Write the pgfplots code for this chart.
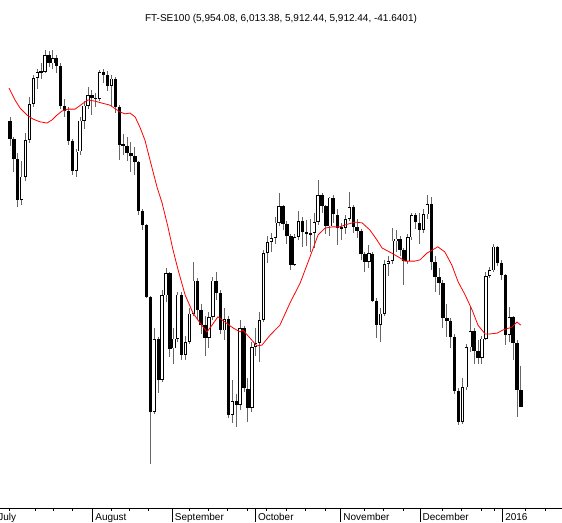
\documentclass[border=0pt]{standalone}
\usepackage{fontspec}
\setmainfont{Liberation Sans}
\usepackage{pgfplots}
\usepackage{pgfplotstable}
\pgfplotsset{compat=1.18}

% daily FT-SE100 candles, index 0 = 3 Jul 2015, 131 = 8 Jan 2016
\pgfplotstableread{
i o h l c
0 6630.47 6640 6567 6585.78
1 6585.78 6590 6502 6535.68
2 6535.68 6550 6415 6432.21
3 6432.21 6530 6420 6490.70
4 6490.70 6600 6480 6581.63
5 6581.63 6690 6575 6673.38
6 6673.38 6746 6665 6737.95
7 6737.95 6762 6710 6753.75
8 6753.75 6775 6735 6753.73
9 6753.73 6808 6750 6796.45
10 6796.45 6805 6765 6775.08
11 6775.08 6808 6762 6788.69
12 6788.69 6795 6750 6769.07
13 6769.07 6775 6660 6667.34
14 6667.34 6685 6640 6655.01
15 6655.01 6665 6570 6579.81
16 6579.81 6585 6494 6505.13
17 6505.13 6560 6490 6553.58
18 6553.58 6640 6545 6631.04
19 6631.04 6680 6610 6668.87
20 6668.87 6715 6660 6696.28
21 6696.28 6708 6645 6688.62
22 6688.62 6700 6665 6686.57
23 6686.57 6758 6680 6752.41
24 6752.41 6762 6725 6746.24
25 6746.24 6755 6705 6718.49
26 6718.49 6745 6668 6736.49
27 6736.49 6740 6650 6664.54
28 6664.54 6670 6532 6571.19
29 6571.19 6598 6545 6568.33
30 6568.33 6590 6530 6550.74
31 6550.74 6578 6502 6542.23
32 6542.23 6565 6495 6526.29
33 6526.29 6530 6395 6403.45
34 6403.45 6410 6356 6367.99
35 6367.99 6372 6185 6187.65
36 6187.65 6190 5768.22 5898.87
37 5898.87 6110 5895 6081.34
38 6081.34 6088 5947 5979.18
39 5979.18 6205 5975 6192.03
40 6192.03 6260 6175 6247.94
41 6247.94 6250 6037 6058.54
42 6058.54 6110 6020 6083.31
43 6083.31 6200 6075 6193.85
44 6193.85 6200 6030 6042.92
45 6042.92 6090 6030 6074.52
46 6074.52 6160 6070 6146.10
47 6146.10 6276 6140 6229.01
48 6229.01 6235 6130 6155.81
49 6155.81 6170 6095 6117.76
50 6117.76 6140 6040 6084.59
51 6084.59 6150 6060 6137.60
52 6137.60 6238 6130 6229.21
53 6229.21 6250 6180 6197.26
54 6197.26 6205 6095 6104.11
55 6104.11 6160 6080 6133.05
56 6133.05 6140 5885 5892.49
57 5892.49 5980 5870 5925.52
58 5925.52 5945 5860 5916.16
59 5916.16 6130 5905 6109.01
60 6109.01 6115 5950 5958.03
61 5958.03 5985 5874 5909.24
62 5909.24 6075 5900 6061.61
63 6061.61 6110 6040 6072.47
64 6072.47 6150 6025 6129.98
65 6129.98 6305 6125 6298.92
66 6298.92 6340 6273 6326.16
67 6326.16 6350 6300 6336.35
68 6336.35 6389 6320 6374.82
69 6374.82 6450 6365 6416.16
70 6416.16 6420 6355 6371.18
71 6371.18 6380 6320 6342.28
72 6342.28 6345 6255 6269.61
73 6269.61 6345 6265 6338.67
74 6338.67 6405 6330 6378.04
75 6378.04 6390 6314 6352.33
76 6352.33 6381 6315 6345.07
77 6345.07 6385 6300 6348.46
78 6348.46 6400 6310 6376.28
79 6376.28 6482 6370 6444.08
80 6444.08 6450 6400 6417.02
81 6417.02 6420 6345 6365.27
82 6365.27 6440 6340 6437.80
83 6437.80 6445 6375 6395.19
84 6395.19 6410 6319 6361.09
85 6361.09 6375 6330 6361.80
86 6361.80 6395 6345 6383.64
87 6383.64 6452 6380 6412.88
88 6412.88 6420 6350 6364.90
89 6364.90 6385 6335 6353.83
90 6353.83 6360 6280 6295.16
91 6295.16 6300 6250 6275.28
92 6275.28 6318 6260 6297.20
93 6297.20 6300 6175 6178.68
94 6178.68 6185 6085 6118.28
95 6118.28 6160 6075 6146.38
96 6146.38 6280 6140 6271.31
97 6271.31 6290 6240 6278.97
98 6278.97 6361 6270 6329.93
99 6329.93 6356 6300 6334.63
100 6334.63 6340 6290 6305.49
101 6305.49 6310 6218 6277.23
102 6277.23 6345 6270 6337.64
103 6337.64 6400 6330 6393.11
104 6393.11 6400 6360 6375.15
105 6375.15 6400 6320 6356.09
106 6356.09 6410 6350 6395.65
107 6395.65 6444 6385 6420.93
108 6420.93 6440 6255 6275.00
109 6275.00 6290 6200 6238.29
110 6238.29 6260 6193 6223.52
111 6223.52 6230 6110 6135.22
112 6135.22 6170 6087 6126.68
113 6126.68 6135 6060 6088.05
114 6088.05 6095 5945 5952.78
115 5952.78 5960 5866 5874.06
116 5874.06 5985 5870 5960.97
117 5960.97 6070 5955 6061.19
118 6061.19 6165 6050 6102.54
119 6102.54 6110 6020 6052.42
120 6052.42 6080 6020 6034.84
121 6034.84 6090 6020 6083.10
122 6083.10 6250 6080 6240.98
123 6240.98 6262 6235 6254.64
124 6254.64 6320 6250 6314.57
125 6314.57 6316 6265 6274.05
126 6274.05 6280 6230 6242.32
127 6242.32 6245 6068 6093.43
128 6093.43 6162 6075 6137.24
129 6137.24 6140 6030 6073.38
130 6073.38 6080 5886 5954.08
131 5954.08 6013.38 5912.44 5912.44
}\candles

\begin{document}
\begin{tikzpicture}
\useasboundingbox (0,0) rectangle (562pt,522pt);
\node[anchor=base, inner sep=0pt, font=\fontsize{10}{12}\selectfont]
  at (281pt,500pt) {FT-SE100 (5,954.08, 6,013.38, 5,912.44, 5,912.44, -41.6401)};
\begin{axis}[
    at={(0pt,14pt)}, anchor=south west,
    scale only axis, width=562pt, height=478pt,
    xmin=-2.564, xmax=141.54,
    ymin=5657.6, ymax=6858.8,
    axis x line*=bottom, axis y line=none,
    axis line style={black, line width=0.6pt},
    xtick={-3.7,21.2,41.6,62.9,84.8,105.1,126.3},
    xticklabels={},
    minor xtick={-0.26,6.4,11.1,16.1,26.1,30.5,35.4,45.9,50.8,55.7,60.8,65.8,70.8,75.8,80.8,90.8,95.8,100.8,110.8,115.8,120.8,124.2,132.2,137.2},
    tick align=outside,
    major tick length=14pt, minor tick length=3pt,
    tick style={black, line width=0.6pt},
    clip=false,
]
% wicks
\addplot[draw=none, mark=none, forget plot,
    error bars/.cd, y dir=both, y explicit, error mark=none,
    error bar style={draw=black!60, line width=0.9pt}]
  table[x=i, y expr=(\thisrow{h}+\thisrow{l})/2,
        y error expr=(\thisrow{h}-\thisrow{l})/2] {\candles};
% bodies
\addplot[draw=none, mark=none, forget plot,
    error bars/.cd, y dir=both, y explicit, error mark=none,
    error bar style={draw=black, line width=3.4pt}]
  table[x=i, y expr=(\thisrow{o}+\thisrow{c})/2,
        y error expr={max(abs(\thisrow{c}-\thisrow{o})/2,1.3)}] {\candles};
% hollow inside of rising candles
\addplot[draw=none, mark=none, forget plot,
    error bars/.cd, y dir=both, y explicit, error mark=none,
    error bar style={draw=white, line width=1.7pt}]
  table[x=i, y expr=(\thisrow{o}+\thisrow{c})/2,
        y error expr={max((\thisrow{c}-\thisrow{o})/2-2,0)}] {\candles};
% moving average
\addplot[red, line width=0.8pt, mark=none] coordinates {
(-0.26,6713)(1.28,6683)(2.56,6663)(4.36,6645)(5.9,6635)(7.7,6628)(9.5,6625)
(10.8,6633)(12.05,6645)(13.3,6655)(14.9,6660)(16.7,6660)(18.5,6673)(20.0,6683)
(21.8,6680)(23.6,6675)(25.6,6670)(28.2,6653)(29.5,6648)(30.8,6650)(32.1,6640)
(33.3,6615)(34.6,6582)(35.9,6532)(37.7,6464)(39.0,6424)(40.5,6364)(41.8,6306)
(43.1,6256)(44.9,6193)(46.9,6148)(48.7,6123)(50.5,6100)(51.8,6117)(53.3,6138)
(55.1,6125)(57.2,6110)(59.0,6100)(59.7,6105)(61.5,6085)(63.3,6065)(64.6,6067)
(66.7,6092)(69.2,6117)(71.8,6173)(74.4,6223)(76.9,6288)(79.0,6344)(80.8,6361)
(82.6,6364)(84.6,6364)(85.9,6369)(88.5,6376)(90.3,6374)(92.3,6356)(94.1,6331)
(95.4,6311)(97.9,6298)(100.0,6286)(101.3,6278)(103.8,6278)(105.1,6281)
(106.9,6298)(109.7,6314)(111.5,6301)(113.3,6268)(114.9,6226)(116.7,6193)
(118.5,6155)(120.0,6117)(121.8,6095)(123.1,6095)(124.9,6097)(126.4,6105)
(128.7,6112)(130.0,6125)(131.0,6117)
};
% month names
\node[anchor=base west, inner sep=0pt, xshift=2.5pt, yshift=-12pt, font=\fontsize{10}{12}\selectfont] at (axis cs:-3.7,5657.6) {July};
\node[anchor=base west, inner sep=0pt, xshift=2.5pt, yshift=-12pt, font=\fontsize{10}{12}\selectfont] at (axis cs:21.2,5657.6) {August};
\node[anchor=base west, inner sep=0pt, xshift=2.5pt, yshift=-12pt, font=\fontsize{10}{12}\selectfont] at (axis cs:41.6,5657.6) {September};
\node[anchor=base west, inner sep=0pt, xshift=2.5pt, yshift=-12pt, font=\fontsize{10}{12}\selectfont] at (axis cs:62.9,5657.6) {October};
\node[anchor=base west, inner sep=0pt, xshift=2.5pt, yshift=-12pt, font=\fontsize{10}{12}\selectfont] at (axis cs:84.8,5657.6) {November};
\node[anchor=base west, inner sep=0pt, xshift=2.5pt, yshift=-12pt, font=\fontsize{10}{12}\selectfont] at (axis cs:105.1,5657.6) {December};
\node[anchor=base west, inner sep=0pt, xshift=2.5pt, yshift=-12pt, font=\fontsize{10}{12}\selectfont] at (axis cs:126.3,5657.6) {2016};
\end{axis}
\end{tikzpicture}
\end{document}
